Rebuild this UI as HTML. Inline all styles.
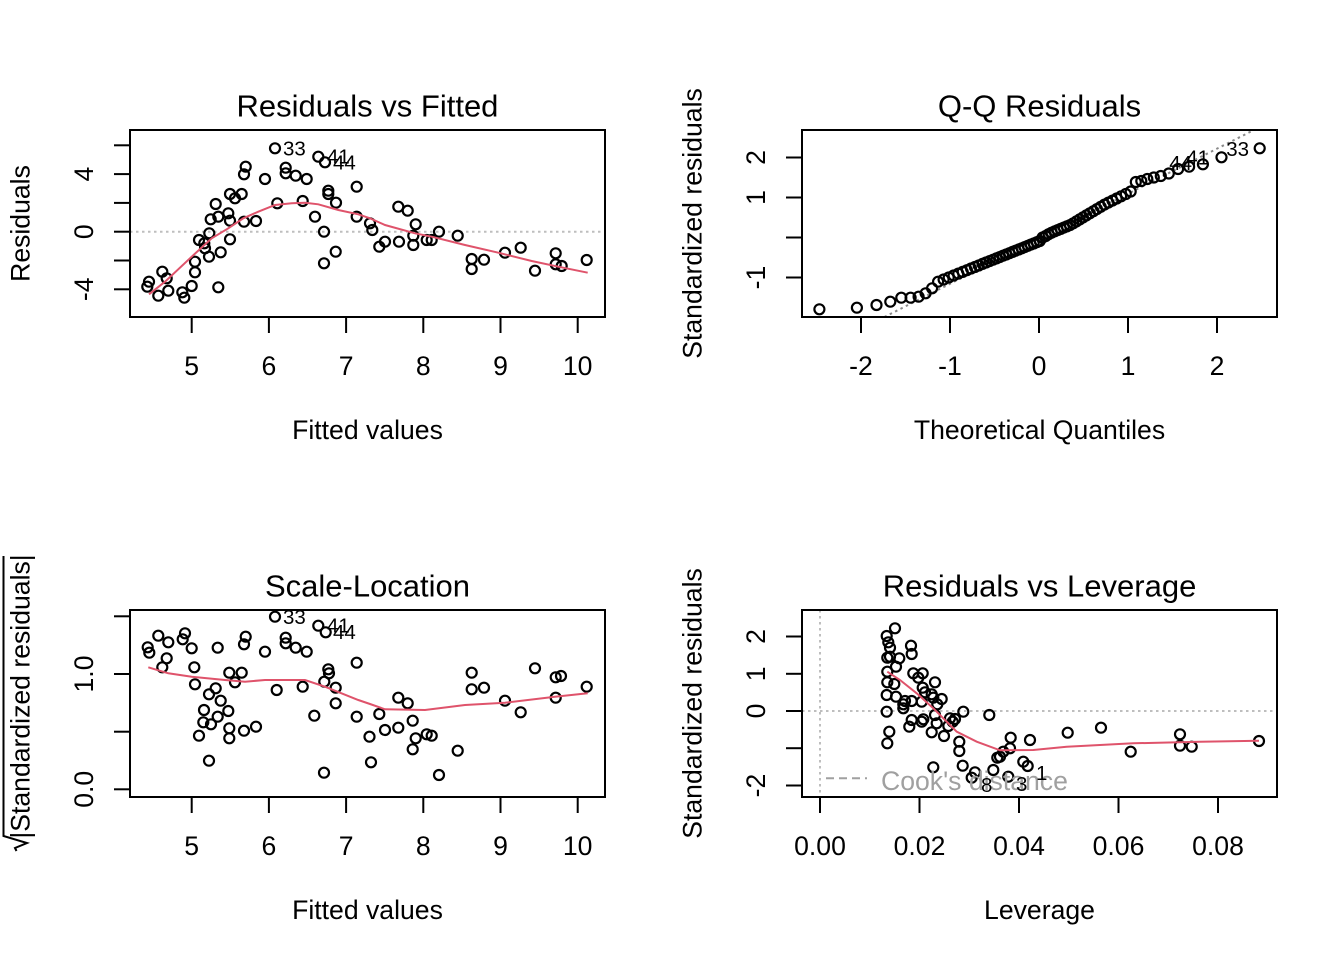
<!DOCTYPE html>
<html><head><meta charset="utf-8"><style>
html,body{margin:0;padding:0;background:#fff;}
svg{display:block;font-family:"Liberation Sans",Arial,sans-serif;}
svg circle{r:5px;}
</style></head><body>
<svg width="1344" height="960" viewBox="0 0 1344 960" xmlns="http://www.w3.org/2000/svg">
<rect width="1344" height="960" fill="#fff"/>
<defs>
<clipPath id="c1"><rect x="130" y="130" width="475" height="187"/></clipPath>
<clipPath id="c2"><rect x="802" y="130" width="475" height="187"/></clipPath>
<clipPath id="c3"><rect x="130" y="610" width="475" height="187"/></clipPath>
<clipPath id="c4"><rect x="802" y="610" width="475" height="187"/></clipPath>
</defs>

<!-- ============ PANEL 1 ============ -->
<g clip-path="url(#c1)">
<line x1="130" y1="231.7" x2="605" y2="231.7" stroke="#bebebe" stroke-width="2" stroke-dasharray="2.5 3.5"/>
<g fill="none" stroke="#000" stroke-width="2.2">
<circle cx="275" cy="148.3" r="4.6"/><circle cx="318.3" cy="156.7" r="4.6"/><circle cx="325" cy="162.3" r="4.6"/><circle cx="285.7" cy="167.7" r="4.6"/><circle cx="285.7" cy="173.3" r="4.6"/><circle cx="295.7" cy="175.7" r="4.6"/><circle cx="306.7" cy="179" r="4.6"/><circle cx="265" cy="179" r="4.6"/><circle cx="245.7" cy="166.7" r="4.6"/><circle cx="244" cy="174.3" r="4.6"/><circle cx="356.7" cy="186.7" r="4.6"/><circle cx="328.3" cy="190.7" r="4.6"/><circle cx="328.3" cy="194" r="4.6"/><circle cx="336" cy="202.7" r="4.6"/><circle cx="230" cy="194" r="4.6"/><circle cx="241.7" cy="194" r="4.6"/><circle cx="235" cy="198.3" r="4.6"/><circle cx="215.7" cy="204" r="4.6"/><circle cx="277.3" cy="203.3" r="4.6"/><circle cx="302.7" cy="201" r="4.6"/><circle cx="315" cy="216.7" r="4.6"/><circle cx="356.7" cy="216.7" r="4.6"/><circle cx="370" cy="223.3" r="4.6"/><circle cx="228.3" cy="213.3" r="4.6"/><circle cx="218.3" cy="216.7" r="4.6"/><circle cx="230" cy="220.7" r="4.6"/><circle cx="210.7" cy="219.3" r="4.6"/><circle cx="244" cy="221.7" r="4.6"/><circle cx="256" cy="221" r="4.6"/><circle cx="209.3" cy="233.3" r="4.6"/><circle cx="199" cy="240" r="4.6"/><circle cx="204.3" cy="243.3" r="4.6"/><circle cx="205" cy="248.3" r="4.6"/><circle cx="230" cy="239.3" r="4.6"/><circle cx="324" cy="231.7" r="4.6"/><circle cx="220.7" cy="252.3" r="4.6"/><circle cx="209" cy="256.7" r="4.6"/><circle cx="335.7" cy="251.7" r="4.6"/><circle cx="324" cy="263.3" r="4.6"/><circle cx="195" cy="261.7" r="4.6"/><circle cx="195" cy="272.3" r="4.6"/><circle cx="162.3" cy="271.7" r="4.6"/><circle cx="166.7" cy="278.3" r="4.6"/><circle cx="149" cy="281.7" r="4.6"/><circle cx="147.3" cy="286.7" r="4.6"/><circle cx="168.3" cy="290.7" r="4.6"/><circle cx="158.3" cy="295.7" r="4.6"/><circle cx="191.7" cy="286" r="4.6"/><circle cx="182.3" cy="292.3" r="4.6"/><circle cx="184.3" cy="297.7" r="4.6"/><circle cx="218.3" cy="287.3" r="4.6"/>
<circle cx="372.3" cy="230" r="4.6"/><circle cx="385" cy="241.7" r="4.6"/><circle cx="379.3" cy="246.7" r="4.6"/><circle cx="398.3" cy="206.7" r="4.6"/><circle cx="407.7" cy="210.7" r="4.6"/><circle cx="415.7" cy="224.3" r="4.6"/><circle cx="413.3" cy="235.7" r="4.6"/><circle cx="413.3" cy="245" r="4.6"/><circle cx="399" cy="241.7" r="4.6"/><circle cx="426.7" cy="240" r="4.6"/><circle cx="431.7" cy="240" r="4.6"/><circle cx="439" cy="231.7" r="4.6"/><circle cx="457.7" cy="235.7" r="4.6"/><circle cx="471.7" cy="259" r="4.6"/><circle cx="471.7" cy="269" r="4.6"/><circle cx="484" cy="259.7" r="4.6"/><circle cx="505" cy="252.7" r="4.6"/><circle cx="520.7" cy="247.7" r="4.6"/><circle cx="535" cy="270.7" r="4.6"/><circle cx="555.7" cy="253.3" r="4.6"/><circle cx="555.7" cy="264.3" r="4.6"/><circle cx="561.7" cy="266" r="4.6"/><circle cx="586.7" cy="260" r="4.6"/>
</g>
<polyline fill="none" stroke="#DF536B" stroke-width="2" points="149,294.3 165,281.7 191.7,256.7 211.7,238.3 228.3,228.3 243.3,218.3 258.3,211.7 275,205 291.7,203.3 305,202.7 318.3,204.3 338.3,210 358.3,214.3 370,218.3 385,225 415,233.3 431.7,236.7 465,245 498.3,252.7 531.7,261 558.3,266.7 587.7,272.7"/>
</g>
<g font-size="20.5" fill="#000">
<text x="283" y="155.5">33</text>
<text x="327" y="163.5">41</text>
<text x="333" y="169.5">44</text>
</g>
<rect x="130" y="130" width="475" height="187" fill="none" stroke="#000" stroke-width="2"/>
<g stroke="#000" stroke-width="2">
<line x1="191.7" y1="317" x2="191.7" y2="333"/><line x1="268.9" y1="317" x2="268.9" y2="333"/><line x1="346.1" y1="317" x2="346.1" y2="333"/><line x1="423.3" y1="317" x2="423.3" y2="333"/><line x1="500.5" y1="317" x2="500.5" y2="333"/><line x1="577.7" y1="317" x2="577.7" y2="333"/>
<line x1="114" y1="289.3" x2="130" y2="289.3"/><line x1="114" y1="260.5" x2="130" y2="260.5"/><line x1="114" y1="231.7" x2="130" y2="231.7"/><line x1="114" y1="202.9" x2="130" y2="202.9"/><line x1="114" y1="174.1" x2="130" y2="174.1"/><line x1="114" y1="145.3" x2="130" y2="145.3"/>
</g>
<g font-size="26.6" text-anchor="middle" fill="#000">
<text x="191.7" y="375">5</text><text x="268.9" y="375">6</text><text x="346.1" y="375">7</text><text x="423.3" y="375">8</text><text x="500.5" y="375">9</text><text x="577.7" y="375">10</text>
<text transform="translate(93,289.3) rotate(-90)">-4</text>
<text transform="translate(93,231.7) rotate(-90)">0</text>
<text transform="translate(93,174.1) rotate(-90)">4</text>
<text x="367.5" y="439">Fitted values</text>
<text transform="translate(29.3,223.5) rotate(-90)">Residuals</text>
</g>
<text x="367.5" y="116.7" font-size="31" text-anchor="middle">Residuals vs Fitted</text>

<!-- ============ PANEL 2 ============ -->
<g clip-path="url(#c2)">
<line x1="884.4" y1="317" x2="1253.9" y2="130" stroke="#8a8a8a" stroke-width="2" stroke-dasharray="2.5 3.5"/>
<g fill="none" stroke="#000" stroke-width="2.2">
<circle cx="819.4" cy="309.3" r="4.6"/><circle cx="856.9" cy="307.7" r="4.6"/><circle cx="876.5" cy="305" r="4.6"/><circle cx="890.3" cy="301.7" r="4.6"/><circle cx="901.3" cy="297.7" r="4.6"/><circle cx="910.6" cy="297.7" r="4.6"/><circle cx="918.6" cy="296.7" r="4.6"/><circle cx="925.6" cy="293.3" r="4.6"/><circle cx="932.1" cy="288.3" r="4.6"/><circle cx="938.1" cy="281.7" r="4.6"/><circle cx="943.6" cy="279.5" r="4.6"/><circle cx="948.7" cy="277.5" r="4.6"/><circle cx="953.6" cy="275.5" r="4.6"/><circle cx="958.3" cy="273.6" r="4.6"/><circle cx="962.7" cy="271.9" r="4.6"/><circle cx="966.9" cy="270.2" r="4.6"/><circle cx="971" cy="268.5" r="4.6"/><circle cx="974.9" cy="267" r="4.6"/><circle cx="978.7" cy="265.5" r="4.6"/><circle cx="982.5" cy="263.9" r="4.6"/><circle cx="986" cy="262.5" r="4.6"/><circle cx="989.6" cy="261.1" r="4.6"/><circle cx="993.1" cy="259.7" r="4.6"/><circle cx="996.4" cy="258.4" r="4.6"/><circle cx="999.7" cy="257.1" r="4.6"/><circle cx="1003" cy="255.7" r="4.6"/><circle cx="1006.2" cy="254.5" r="4.6"/><circle cx="1009.4" cy="253.2" r="4.6"/><circle cx="1012.6" cy="251.9" r="4.6"/><circle cx="1015.6" cy="250.7" r="4.6"/><circle cx="1018.7" cy="249.5" r="4.6"/><circle cx="1021.7" cy="248.3" r="4.6"/><circle cx="1024.7" cy="247.1" r="4.6"/><circle cx="1027.8" cy="245.8" r="4.6"/><circle cx="1030.8" cy="244.6" r="4.6"/><circle cx="1033.7" cy="243.5" r="4.6"/><circle cx="1036.8" cy="242.2" r="4.6"/><circle cx="1039.7" cy="241" r="4.6"/><circle cx="1042.6" cy="237.5" r="4.6"/><circle cx="1045.7" cy="236" r="4.6"/><circle cx="1048.6" cy="234.2" r="4.6"/><circle cx="1051.6" cy="232.7" r="4.6"/><circle cx="1054.7" cy="231.3" r="4.6"/><circle cx="1057.7" cy="230.1" r="4.6"/><circle cx="1060.7" cy="228.9" r="4.6"/><circle cx="1063.8" cy="227.6" r="4.6"/><circle cx="1066.8" cy="226.4" r="4.6"/><circle cx="1070" cy="225.1" r="4.6"/><circle cx="1073.2" cy="223.3" r="4.6"/><circle cx="1076.4" cy="221.4" r="4.6"/><circle cx="1079.7" cy="219.4" r="4.6"/><circle cx="1083" cy="217.4" r="4.6"/><circle cx="1086.3" cy="215.4" r="4.6"/><circle cx="1089.8" cy="213.3" r="4.6"/><circle cx="1093.4" cy="211.2" r="4.6"/><circle cx="1096.9" cy="209.1" r="4.6"/><circle cx="1100.7" cy="206.8" r="4.6"/><circle cx="1104.5" cy="204.6" r="4.6"/><circle cx="1108.4" cy="202.6" r="4.6"/><circle cx="1112.5" cy="200.6" r="4.6"/><circle cx="1116.7" cy="198.5" r="4.6"/><circle cx="1121.1" cy="196.3" r="4.6"/><circle cx="1125.8" cy="194" r="4.6"/><circle cx="1130.7" cy="191.5" r="4.6"/><circle cx="1135.8" cy="182" r="4.6"/><circle cx="1141.3" cy="181" r="4.6"/><circle cx="1147.3" cy="179" r="4.6"/><circle cx="1153.8" cy="177.5" r="4.6"/><circle cx="1160.8" cy="176" r="4.6"/><circle cx="1168.8" cy="173.5" r="4.6"/><circle cx="1178.1" cy="169" r="4.6"/><circle cx="1189.1" cy="166.7" r="4.6"/><circle cx="1202.9" cy="164.3" r="4.6"/><circle cx="1221.5" cy="157.3" r="4.6"/><circle cx="1259.7" cy="148.3" r="4.6"/>
</g>
</g>
<g font-size="20.5" fill="#000" text-anchor="end">
<text x="1249" y="156">33</text>
<text x="1209" y="164.5">41</text>
<text x="1192" y="170">44</text>
</g>
<rect x="802" y="130" width="475" height="187" fill="none" stroke="#000" stroke-width="2"/>
<g stroke="#000" stroke-width="2">
<line x1="861" y1="317" x2="861" y2="333"/><line x1="950" y1="317" x2="950" y2="333"/><line x1="1039" y1="317" x2="1039" y2="333"/><line x1="1128" y1="317" x2="1128" y2="333"/><line x1="1217" y1="317" x2="1217" y2="333"/>
<line x1="786" y1="277.5" x2="802" y2="277.5"/><line x1="786" y1="237.5" x2="802" y2="237.5"/><line x1="786" y1="197.5" x2="802" y2="197.5"/><line x1="786" y1="157.5" x2="802" y2="157.5"/>
</g>
<g font-size="26.6" text-anchor="middle" fill="#000">
<text x="861" y="375">-2</text><text x="950" y="375">-1</text><text x="1039" y="375">0</text><text x="1128" y="375">1</text><text x="1217" y="375">2</text>
<text transform="translate(765,277.5) rotate(-90)">-1</text>
<text transform="translate(765,197.5) rotate(-90)">1</text>
<text transform="translate(765,157.5) rotate(-90)">2</text>
<text x="1039.5" y="439">Theoretical Quantiles</text>
<text transform="translate(701.3,223.5) rotate(-90)">Standardized residuals</text>
</g>
<text x="1039.5" y="116.7" font-size="31" text-anchor="middle">Q-Q Residuals</text>

<!-- ============ PANEL 3 ============ -->
<g clip-path="url(#c3)">
<g fill="none" stroke="#000" stroke-width="2.2">
<circle cx="275" cy="616.7" r="4.6"/><circle cx="318.3" cy="625.7" r="4.6"/><circle cx="325.7" cy="632.3" r="4.6"/><circle cx="285.7" cy="637.7" r="4.6"/><circle cx="285.7" cy="643.3" r="4.6"/><circle cx="295.7" cy="647.7" r="4.6"/><circle cx="306.7" cy="651.7" r="4.6"/><circle cx="265" cy="651.7" r="4.6"/><circle cx="245.7" cy="636.7" r="4.6"/><circle cx="244" cy="644.3" r="4.6"/><circle cx="217.7" cy="647.7" r="4.6"/><circle cx="356.7" cy="662.7" r="4.6"/><circle cx="328.3" cy="669.3" r="4.6"/><circle cx="329" cy="673.3" r="4.6"/><circle cx="324.3" cy="681.7" r="4.6"/><circle cx="335.7" cy="687.7" r="4.6"/><circle cx="335.7" cy="703.3" r="4.6"/><circle cx="314.3" cy="715.7" r="4.6"/><circle cx="356.7" cy="716.7" r="4.6"/><circle cx="369.5" cy="736.7" r="4.6"/><circle cx="371" cy="762.3" r="4.6"/><circle cx="324" cy="772.7" r="4.6"/><circle cx="302.7" cy="686.7" r="4.6"/><circle cx="276.7" cy="690" r="4.6"/><circle cx="158.3" cy="635.7" r="4.6"/><circle cx="168.3" cy="642.3" r="4.6"/><circle cx="147.7" cy="647.3" r="4.6"/><circle cx="149.3" cy="652.7" r="4.6"/><circle cx="185" cy="633.3" r="4.6"/><circle cx="182.7" cy="639.3" r="4.6"/><circle cx="191.7" cy="648.3" r="4.6"/><circle cx="166.7" cy="658.3" r="4.6"/><circle cx="162.3" cy="667.3" r="4.6"/><circle cx="194.3" cy="667.3" r="4.6"/><circle cx="229.3" cy="672.7" r="4.6"/><circle cx="241.7" cy="672.7" r="4.6"/><circle cx="235" cy="682.3" r="4.6"/><circle cx="195" cy="684.3" r="4.6"/><circle cx="215.7" cy="688.3" r="4.6"/><circle cx="209" cy="694.3" r="4.6"/><circle cx="220.7" cy="700.7" r="4.6"/><circle cx="228.3" cy="711" r="4.6"/><circle cx="204" cy="710" r="4.6"/><circle cx="217.7" cy="716.7" r="4.6"/><circle cx="203.3" cy="722.3" r="4.6"/><circle cx="211" cy="724.3" r="4.6"/><circle cx="229.3" cy="728.3" r="4.6"/><circle cx="229.3" cy="738.3" r="4.6"/><circle cx="244" cy="730.7" r="4.6"/><circle cx="256" cy="726.7" r="4.6"/><circle cx="199" cy="735.7" r="4.6"/><circle cx="209" cy="760.7" r="4.6"/>
<circle cx="471.7" cy="672.7" r="4.6"/><circle cx="471.7" cy="689.3" r="4.6"/><circle cx="484" cy="687.7" r="4.6"/><circle cx="535" cy="668.3" r="4.6"/><circle cx="555.7" cy="677.3" r="4.6"/><circle cx="561" cy="676" r="4.6"/><circle cx="586.7" cy="686.7" r="4.6"/><circle cx="555.7" cy="697.7" r="4.6"/><circle cx="505" cy="700.7" r="4.6"/><circle cx="520.7" cy="712.3" r="4.6"/><circle cx="398.3" cy="697.7" r="4.6"/><circle cx="407.7" cy="703.3" r="4.6"/><circle cx="379.3" cy="714" r="4.6"/><circle cx="412.7" cy="720.7" r="4.6"/><circle cx="385" cy="730" r="4.6"/><circle cx="398.3" cy="727.7" r="4.6"/><circle cx="415.7" cy="738.3" r="4.6"/><circle cx="426.7" cy="734.3" r="4.6"/><circle cx="431.7" cy="735.7" r="4.6"/><circle cx="412.7" cy="749.3" r="4.6"/><circle cx="457.7" cy="750.7" r="4.6"/><circle cx="439" cy="775" r="4.6"/>
</g>
<polyline fill="none" stroke="#DF536B" stroke-width="2" points="148.3,667.3 168.3,673.3 191.7,676.7 225,680 245,681.7 265,680 305,680 325,686.7 358.3,700 370,704 385,709.3 425,710 465,705 505,702.7 555,696.7 587.7,693.3"/>
</g>
<g font-size="20.5" fill="#000">
<text x="283" y="624">33</text>
<text x="327" y="632.7">41</text>
<text x="333" y="639">44</text>
</g>
<rect x="130" y="610" width="475" height="187" fill="none" stroke="#000" stroke-width="2"/>
<g stroke="#000" stroke-width="2">
<line x1="191.7" y1="797" x2="191.7" y2="813"/><line x1="268.9" y1="797" x2="268.9" y2="813"/><line x1="346.1" y1="797" x2="346.1" y2="813"/><line x1="423.3" y1="797" x2="423.3" y2="813"/><line x1="500.5" y1="797" x2="500.5" y2="813"/><line x1="577.7" y1="797" x2="577.7" y2="813"/>
<line x1="114" y1="789.3" x2="130" y2="789.3"/><line x1="114" y1="731.7" x2="130" y2="731.7"/><line x1="114" y1="674" x2="130" y2="674"/><line x1="114" y1="616.3" x2="130" y2="616.3"/>
</g>
<g font-size="26.6" text-anchor="middle" fill="#000">
<text x="191.7" y="855">5</text><text x="268.9" y="855">6</text><text x="346.1" y="855">7</text><text x="423.3" y="855">8</text><text x="500.5" y="855">9</text><text x="577.7" y="855">10</text>
<text transform="translate(93,789.3) rotate(-90)">0.0</text>
<text transform="translate(93,674) rotate(-90)">1.0</text>
<text x="367.5" y="919">Fitted values</text>
<text transform="translate(29.3,696.5) rotate(-90)">|Standardized residuals|</text>
</g>
<polyline fill="none" stroke="#000" stroke-width="2" points="3.5,556 3.5,836 27,843 15,848 16.5,851"/>
<text x="367.5" y="596.7" font-size="31" text-anchor="middle">Scale-Location</text>

<!-- ============ PANEL 4 ============ -->
<g clip-path="url(#c4)">
<line x1="802" y1="711" x2="1277" y2="711" stroke="#bebebe" stroke-width="2" stroke-dasharray="2.5 3.5"/>
<line x1="820" y1="610" x2="820" y2="797" stroke="#bebebe" stroke-width="2" stroke-dasharray="2.5 3.5"/>
<g fill="none" stroke="#000" stroke-width="2.2">
<circle cx="895" cy="628.3" r="4.6"/><circle cx="886.7" cy="636" r="4.6"/><circle cx="888.3" cy="642.3" r="4.6"/><circle cx="890" cy="647.7" r="4.6"/><circle cx="911" cy="645.7" r="4.6"/><circle cx="911.7" cy="654" r="4.6"/><circle cx="887.3" cy="657.7" r="4.6"/><circle cx="890" cy="656.7" r="4.6"/><circle cx="899.3" cy="658.3" r="4.6"/><circle cx="896" cy="666.7" r="4.6"/><circle cx="887.3" cy="671.7" r="4.6"/><circle cx="913.3" cy="673.3" r="4.6"/><circle cx="922.7" cy="673.3" r="4.6"/><circle cx="918.3" cy="677.7" r="4.6"/><circle cx="887.3" cy="682.3" r="4.6"/><circle cx="894.3" cy="684" r="4.6"/><circle cx="935" cy="682.3" r="4.6"/><circle cx="922.7" cy="687.7" r="4.6"/><circle cx="925" cy="692.3" r="4.6"/><circle cx="931.7" cy="694.3" r="4.6"/><circle cx="933.3" cy="697.7" r="4.6"/><circle cx="941.7" cy="699" r="4.6"/><circle cx="886.7" cy="695" r="4.6"/><circle cx="896" cy="696.7" r="4.6"/><circle cx="905" cy="701" r="4.6"/><circle cx="911.7" cy="701" r="4.6"/><circle cx="903.3" cy="704.3" r="4.6"/><circle cx="903.3" cy="708.3" r="4.6"/><circle cx="921.7" cy="701.7" r="4.6"/><circle cx="937.3" cy="704.3" r="4.6"/><circle cx="886.7" cy="711.7" r="4.6"/><circle cx="963.3" cy="711.7" r="4.6"/><circle cx="989.3" cy="715" r="4.6"/><circle cx="935" cy="715" r="4.6"/><circle cx="950" cy="718.3" r="4.6"/><circle cx="955" cy="719" r="4.6"/><circle cx="952.7" cy="721.7" r="4.6"/><circle cx="923.3" cy="719.3" r="4.6"/><circle cx="911.7" cy="720" r="4.6"/><circle cx="921.7" cy="721.7" r="4.6"/><circle cx="909.3" cy="726.7" r="4.6"/><circle cx="936.7" cy="723.3" r="4.6"/><circle cx="948.3" cy="726" r="4.6"/><circle cx="931.7" cy="732.3" r="4.6"/><circle cx="944" cy="736" r="4.6"/><circle cx="889.3" cy="731.7" r="4.6"/><circle cx="887.3" cy="743.3" r="4.6"/><circle cx="959.3" cy="741.7" r="4.6"/><circle cx="959.3" cy="751" r="4.6"/><circle cx="1010.7" cy="737.7" r="4.6"/><circle cx="1030" cy="740" r="4.6"/><circle cx="1010" cy="748.3" r="4.6"/><circle cx="1003.3" cy="751.7" r="4.6"/><circle cx="997.3" cy="757.7" r="4.6"/><circle cx="1023.3" cy="761.7" r="4.6"/><circle cx="1027.7" cy="766" r="4.6"/><circle cx="933.3" cy="767.3" r="4.6"/><circle cx="962.7" cy="765.7" r="4.6"/><circle cx="975" cy="772.3" r="4.6"/><circle cx="971.7" cy="777.7" r="4.6"/><circle cx="993.3" cy="770" r="4.6"/><circle cx="1008.3" cy="776.7" r="4.6"/>
<circle cx="1000" cy="756.7" r="4.6"/><circle cx="1067.7" cy="732.7" r="4.6"/><circle cx="1101" cy="727.7" r="4.6"/><circle cx="1130.7" cy="751.7" r="4.6"/><circle cx="1180" cy="734.3" r="4.6"/><circle cx="1180" cy="745.7" r="4.6"/><circle cx="1191.7" cy="746.7" r="4.6"/><circle cx="1259" cy="741" r="4.6"/>
</g>
<polyline fill="none" stroke="#DF536B" stroke-width="2" points="887.3,671.7 900,680 916.7,693.3 933.3,708.3 946.7,721.7 956.7,731.7 976.7,741.7 1000,750.3 1033.3,750 1066.7,746.7 1133.3,743.3 1200,741.7 1259,740.7"/>
</g>
<line x1="826" y1="778.3" x2="867" y2="778.3" stroke="#a0a0a0" stroke-width="2" stroke-dasharray="8 5"/>
<text x="881" y="790" font-size="26.6" fill="#a0a0a0">Cook's distance</text>
<g font-size="20.5" fill="#000">
<text x="981" y="792">8</text>
<text x="1016" y="791">3</text>
<text x="1036" y="780">1</text>
</g>
<rect x="802" y="610" width="475" height="187" fill="none" stroke="#000" stroke-width="2"/>
<g stroke="#000" stroke-width="2">
<line x1="820" y1="797" x2="820" y2="813"/><line x1="919.5" y1="797" x2="919.5" y2="813"/><line x1="1019" y1="797" x2="1019" y2="813"/><line x1="1118.5" y1="797" x2="1118.5" y2="813"/><line x1="1218" y1="797" x2="1218" y2="813"/>
<line x1="786" y1="785.5" x2="802" y2="785.5"/><line x1="786" y1="748.2" x2="802" y2="748.2"/><line x1="786" y1="711" x2="802" y2="711"/><line x1="786" y1="673.8" x2="802" y2="673.8"/><line x1="786" y1="636.5" x2="802" y2="636.5"/>
</g>
<g font-size="26.6" text-anchor="middle" fill="#000">
<text x="820" y="855">0.00</text><text x="919.5" y="855">0.02</text><text x="1019" y="855">0.04</text><text x="1118.5" y="855">0.06</text><text x="1218" y="855">0.08</text>
<text transform="translate(765,785.5) rotate(-90)">-2</text>
<text transform="translate(765,711) rotate(-90)">0</text>
<text transform="translate(765,673.8) rotate(-90)">1</text>
<text transform="translate(765,636.5) rotate(-90)">2</text>
<text x="1039.5" y="919">Leverage</text>
<text transform="translate(701.3,703.5) rotate(-90)">Standardized residuals</text>
</g>
<text x="1039.5" y="596.7" font-size="31" text-anchor="middle">Residuals vs Leverage</text>
</svg>
</body></html>
